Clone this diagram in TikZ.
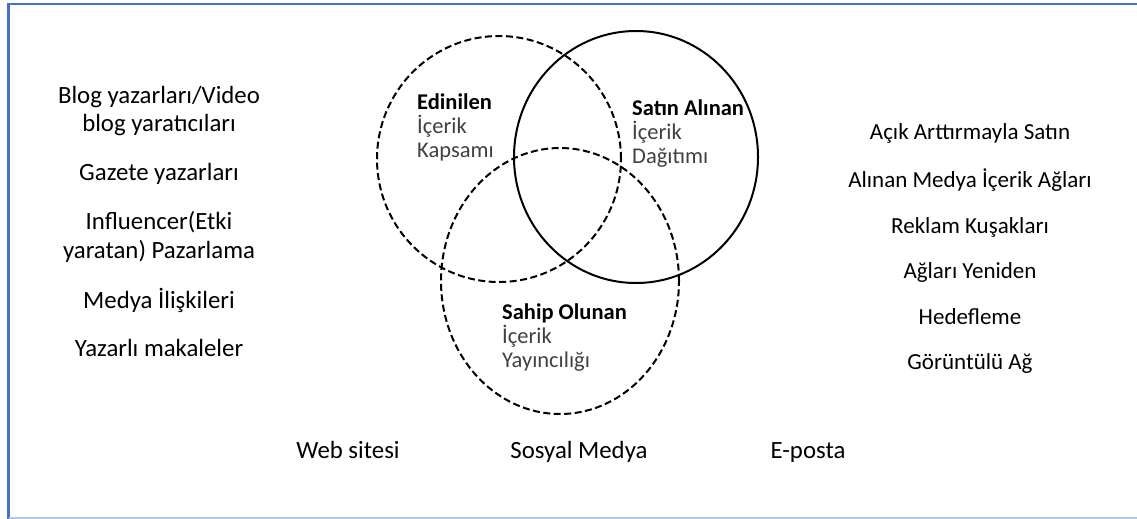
\documentclass[tikz,border=0pt]{standalone}
\usepackage{fontspec}
\setmainfont{Carlito}
\usetikzlibrary{positioning}
\definecolor{frameblue}{RGB}{68,114,196}
\definecolor{framelight}{RGB}{180,199,231}
\definecolor{labelgray}{RGB}{64,64,64}

\begin{document}
\begin{tikzpicture}[x=1pt,y=-1pt,
    ring/.style={line width=2pt},
    dashring/.style={ring,dash pattern=on 7pt off 3.5pt},
    item/.style={font=\fontsize{24.8}{29}\selectfont,anchor=mid,inner sep=0pt,yshift=-4pt},
    ritem/.style={item,font=\fontsize{23}{29}\selectfont},
    head/.style={font=\fontsize{22.5}{24}\selectfont\bfseries,anchor=mid west,inner sep=0pt,yshift=-4pt},
    sub/.style={head,font=\fontsize{22.5}{24}\selectfont\mdseries,text=labelgray}]
  \useasboundingbox (0,0) rectangle (1137,519);
  % frame
  \draw[frameblue,line width=2.5pt] (8.5,519) -- (8.5,4) -- (1137,4);
  \draw[framelight,line width=1.5pt] (8.5,518) -- (1137,518);

  % the three circles
  \draw[dashring] (499,159) ellipse [x radius=122pt, y radius=123pt];
  \draw[ring] (636,157) ellipse [x radius=122pt, y radius=126pt];
  \draw[dashring] (560,281) ellipse [x radius=119pt, y radius=133pt];

  % circle labels
  \node[head] (earned) at (417,103) {Edinilen};
  \node[sub] (earned2) at (417,127) {İçerik};
  \node[sub] (earned3) at (417,151) {Kapsamı};
  \node[head] (paid) at (632,109) {Satın Alınan};
  \node[sub] (paid2) at (632,133) {İçerik};
  \node[sub] (paid3) at (632,157) {Dağıtımı};
  \node[head] (owned) at (502,313) {Sahip Olunan};
  \node[sub] (owned2) at (502,337) {İçerik};
  \node[sub] (owned3) at (502,361) {Yayıncılığı};

  % left column
  \foreach \y/\t [count=\i] in {97/{Blog yazarları/Video},125/blog yaratıcıları,
      174/Gazete yazarları,223/Influencer(Etki,252/yaratan) Pazarlama,
      302/Medya İlişkileri,350/Yazarlı makaleler}
    \node[item] (lft\i) at (159,\y) {\t};

  % right column
  \foreach \y/\t [count=\i] in {133/Açık Arttırmayla Satın,
      181/Alınan Medya İçerik Ağları,227/Reklam Kuşakları,
      272/Ağları Yeniden,318/Hedefleme,363/Görüntülü Ağ}
    \node[ritem] (rgt\i) at (970,\y) {\t};

  % channels
  \node[item] (web) at (348,452) {Web sitesi};
  \node[item] (social) at (579,452) {Sosyal Medya};
  \node[item] (mail) at (808,452) {E-posta};
\end{tikzpicture}
\end{document}
